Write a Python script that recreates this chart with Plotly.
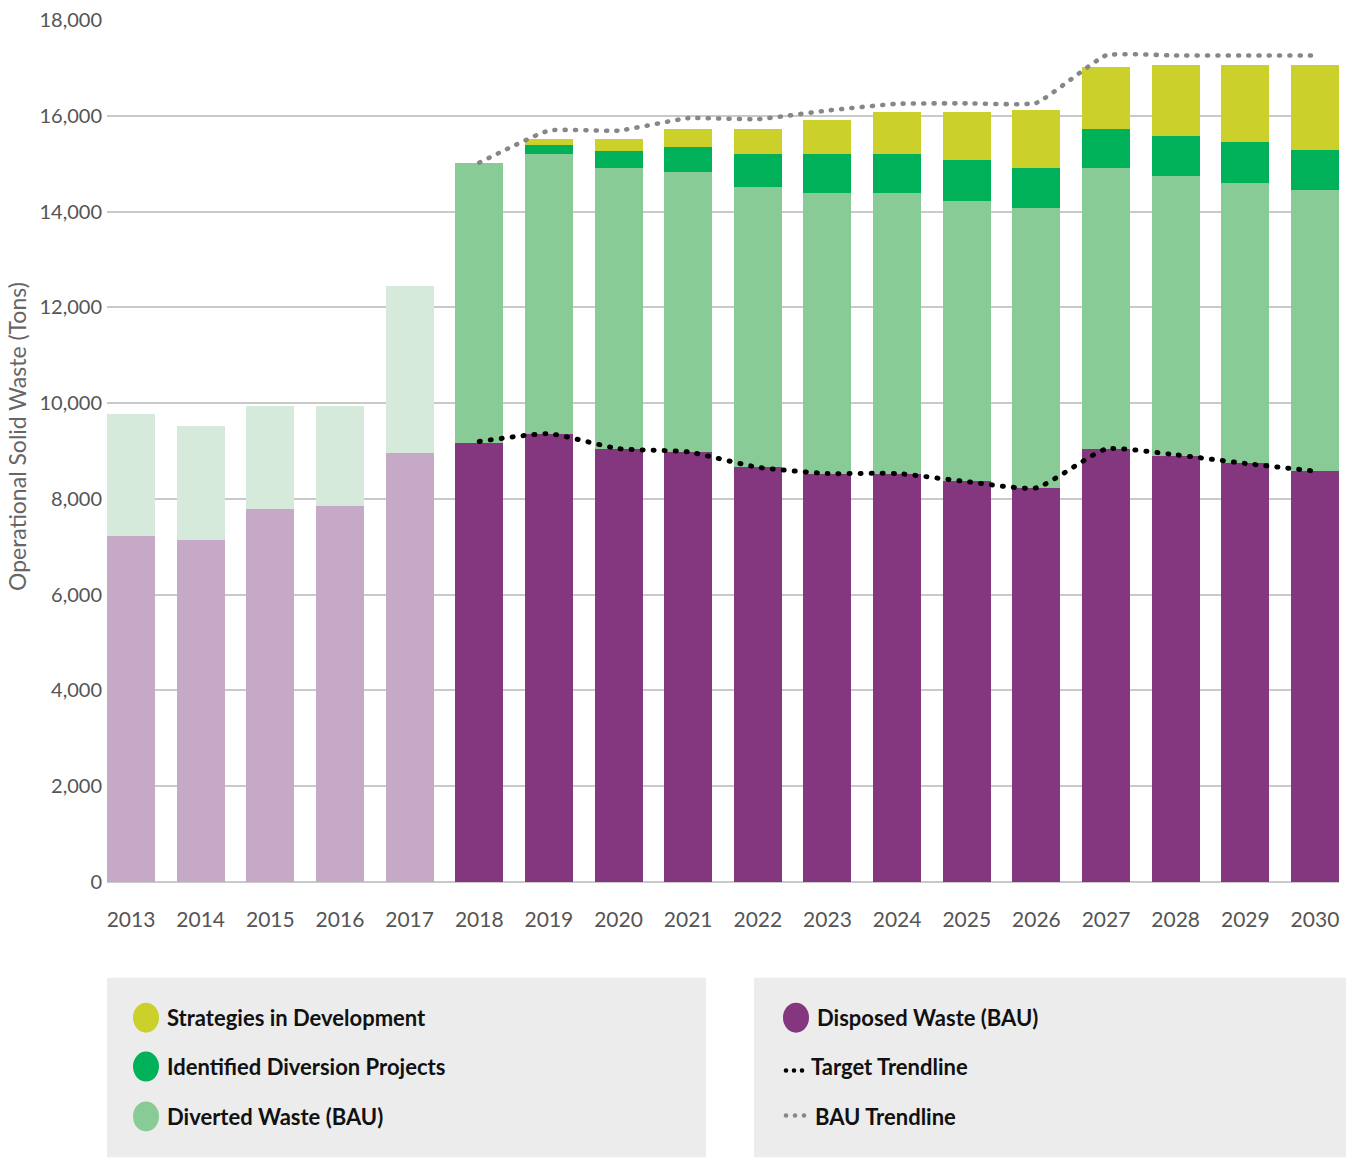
import plotly.graph_objects as go

# ---- data (tons) ----
years = [str(y) for y in range(2013, 2031)]
disposed = [7230, 7150, 7790, 7850, 8960, 9170, 9350, 9040, 8980, 8670,
            8520, 8520, 8380, 8230, 9040, 8900, 8750, 8580]
diverted = [2540, 2370, 2150, 2090, 3480, 5850, 5860, 5860, 5850, 5850,
            5860, 5860, 5850, 5850, 5860, 5850, 5850, 5860]
identified = [None, None, None, None, None, None, 170, 375, 520, 690,
              830, 830, 850, 830, 830, 830, 850, 850]
strategies = [None, None, None, None, None, None, 125, 230, 375, 520,
              710, 875, 1000, 1210, 1290, 1480, 1605, 1770]

trend_years = [str(y) for y in range(2018, 2031)]
target_trend = [9200, 9360, 9050, 8980, 8660, 8530, 8530, 8360, 8230,
                9040, 8920, 8740, 8580]
bau_trend = [15020, 15690, 15690, 15950, 15930, 16110, 16250, 16260, 16270,
             17260, 17260, 17260, 17260]

y_ticks = [0, 2000, 4000, 6000, 8000, 10000, 12000, 14000, 16000, 18000]

# ---- colours ----
PURPLE = "#84377f"
PURPLE_LIGHT = "#c6a9c6"
GREEN_MID = "#89cb96"
GREEN_PALE = "#d5eada"
GREEN_BRIGHT = "#00b15a"
YELLOW = "#cbd02b"
GREY_DOT = "#878787"

historic = [int(y) < 2018 for y in years]
disposed_colors = [PURPLE_LIGHT if h else PURPLE for h in historic]
diverted_colors = [GREEN_PALE if h else GREEN_MID for h in historic]

fig = go.Figure()
fig.add_trace(go.Bar(x=years, y=disposed, name="Disposed Waste (BAU)",
                     marker=dict(color=disposed_colors, line=dict(width=0))))
fig.add_trace(go.Bar(x=years, y=diverted, name="Diverted Waste (BAU)",
                     marker=dict(color=diverted_colors, line=dict(width=0))))
fig.add_trace(go.Bar(x=years, y=identified, name="Identified Diversion Projects",
                     marker=dict(color=GREEN_BRIGHT, line=dict(width=0))))
fig.add_trace(go.Bar(x=years, y=strategies, name="Strategies in Development",
                     marker=dict(color=YELLOW, line=dict(width=0))))

fig.add_trace(go.Scatter(x=trend_years, y=bau_trend, mode="lines", name="BAU Trendline",
                         line=dict(color=GREY_DOT, width=4.6, dash="1px,9.3px",
                                   shape="spline", smoothing=0.4)))
fig.add_trace(go.Scatter(x=trend_years, y=target_trend, mode="lines", name="Target Trendline",
                         line=dict(color="#000000", width=5, dash="1px,10px",
                                   shape="spline", smoothing=0.5)))

# ---- page geometry (pixels) ----
W, H = 1346, 1159
L, R, T, B = 107, 1339, 18, 882


def px(x):
    return (x - L) / (R - L)


def py(y):
    return (B - y) / (B - T)


shapes = []
annotations = []

# legend panels
for x0, x1 in [(107, 706), (754, 1346)]:
    shapes.append(dict(type="rect", xref="paper", yref="paper",
                       x0=px(x0), x1=px(x1), y0=py(1158), y1=py(978),
                       fillcolor="#ececec", line=dict(width=0), layer="below"))

LEG_FONT = dict(family="Lato, 'Open Sans', sans-serif", size=22, color="#111111")


def swatch(cx, cy, color):
    shapes.append(dict(type="circle", xref="paper", yref="paper",
                       x0=px(cx - 13), x1=px(cx + 13), y0=py(cy + 15), y1=py(cy - 15),
                       fillcolor=color, line=dict(width=0)))


def label(x, y, text):
    annotations.append(dict(xref="paper", yref="paper", x=px(x), y=py(y),
                            xanchor="left", yanchor="middle", showarrow=False,
                            text="<b>" + text + "</b>", font=LEG_FONT))


def dots(xs, cy, color, r):
    for cx in xs:
        shapes.append(dict(type="circle", xref="paper", yref="paper",
                           x0=px(cx - r), x1=px(cx + r), y0=py(cy + r), y1=py(cy - r),
                           fillcolor=color, line=dict(width=0)))


swatch(146, 1018, YELLOW)
label(165, 1018, "Strategies in Development")
swatch(146, 1067, GREEN_BRIGHT)
label(165, 1067, "Identified Diversion Projects")
swatch(146, 1117, GREEN_MID)
label(165, 1117, "Diverted Waste (BAU)")

swatch(796, 1018, PURPLE)
label(815, 1018, "Disposed Waste (BAU)")
dots([786, 794, 802], 1071, "#000000", 2.3)
label(809, 1067, "Target Trendline")
dots([786, 795, 804], 1116, GREY_DOT, 2.3)
label(813, 1117, "BAU Trendline")

# y-axis title
annotations.append(dict(xref="paper", yref="paper", x=px(17), y=py(436),
                        xanchor="center", yanchor="middle", showarrow=False,
                        textangle=-90, text="Operational Solid Waste (Tons)",
                        font=dict(family="Lato, sans-serif", size=23, color="#666666")))

fig.update_layout(
    width=W, height=H,
    margin=dict(l=L, r=W - R, t=T, b=H - B, pad=0),
    paper_bgcolor="white", plot_bgcolor="white",
    barmode="stack", bargap=0.311,
    showlegend=False,
    shapes=shapes, annotations=annotations,
    xaxis=dict(type="category", range=[-0.345, 17.345], showgrid=False,
               showline=False, zeroline=False, ticks="", ticklabelstandoff=23,
               tickfont=dict(family="Lato, sans-serif", size=21, color="#555555")),
    yaxis=dict(range=[0, 18000], tickvals=y_ticks, tickformat=",d",
               showgrid=True, gridcolor="#c9c9c9", gridwidth=1.5,
               zeroline=True, zerolinecolor="#c9c9c9", zerolinewidth=1.5,
               showline=False, ticks="", ticklabelstandoff=4,
               tickfont=dict(family="Lato, sans-serif", size=20, color="#555555")),
)

round_caps = """
document.querySelectorAll('.scatterlayer path.js-line').forEach(function(p){
  p.style.strokeLinecap = 'round';
});
"""

fig.write_html("out.html", post_script=round_caps)
